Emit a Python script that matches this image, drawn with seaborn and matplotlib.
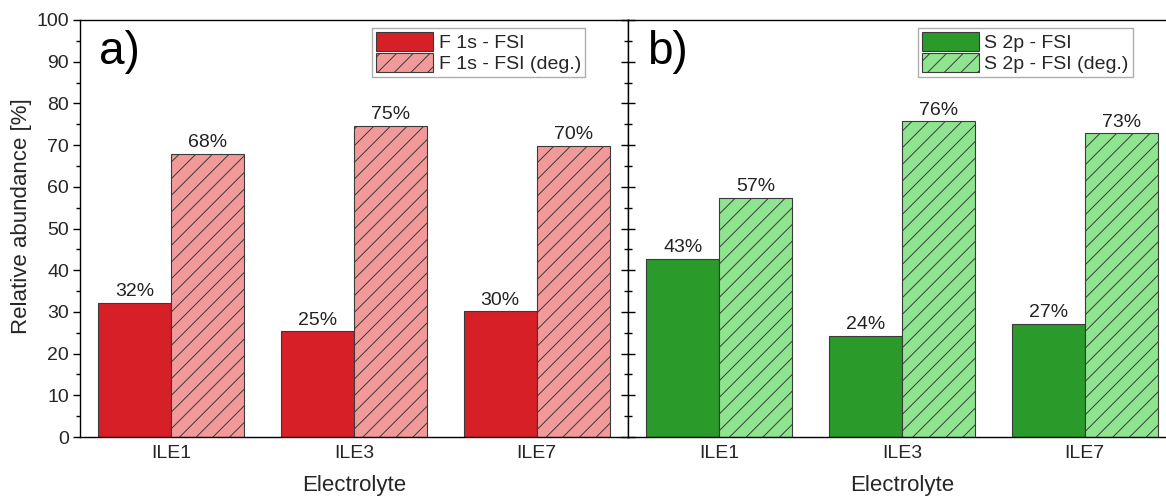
import matplotlib
matplotlib.use("Agg")
import matplotlib.pyplot as plt
from matplotlib.patches import Patch
from matplotlib.ticker import MultipleLocator
import numpy as np
import pandas as pd
import seaborn as sns

# Electrolytes and relative abundances (%)
electrolytes = ["ILE1", "ILE3", "ILE7"]
f1s_intact = [32.1, 25.3, 30.1]
f1s_degraded = [67.9, 74.7, 69.9]
s2p_intact = [42.7, 24.3, 27.2]
s2p_degraded = [57.3, 75.7, 72.8]

f_labels = ["F 1s - FSI", "F 1s - FSI (deg.)"]
s_labels = ["S 2p - FSI", "S 2p - FSI (deg.)"]
panel_tags = ["a)", "b)"]

sns.set_theme(style="white")
plt.rcParams["font.family"] = ["Liberation Sans", "DejaVu Sans"]
plt.rcParams["hatch.linewidth"] = 0.7

red_colors = ["#d71f27", "#f29a9a"]
green_colors = ["#2a9a2a", "#8fe48f"]
edge = "#3a3a3a"


def long_frame(intact, degraded, labels):
    return pd.DataFrame({
        "Electrolyte": electrolytes * 2,
        "value": list(intact) + list(degraded),
        "series": [labels[0]] * len(electrolytes) + [labels[1]] * len(electrolytes),
    })


fig = plt.figure(figsize=(11.66, 5.0), dpi=100)
W, H = 1166, 500
ax_w = 548 / W
ax_b = (500 - 437) / H
ax_h = 417 / H
ax1 = fig.add_axes([80 / W, ax_b, ax_w, ax_h])
ax2 = fig.add_axes([628 / W, ax_b, ax_w, ax_h])

panels = [
    (ax1, long_frame(f1s_intact, f1s_degraded, f_labels), f_labels, red_colors),
    (ax2, long_frame(s2p_intact, s2p_degraded, s_labels), s_labels, green_colors),
]

for i, (ax, df, labels, colors) in enumerate(panels):
    sns.barplot(data=df, x="Electrolyte", y="value", hue="series",
                hue_order=labels, palette=colors, ax=ax, width=0.8,
                edgecolor=edge, linewidth=0.8, saturation=1.0, legend=False)
    # hatch the degraded series
    for bar in ax.containers[1]:
        bar.set_hatch("//")
    for cont in ax.containers:
        ax.bar_label(cont, fmt="%.0f%%", padding=2, fontsize=14, color="#222222")

    ax.set_ylim(0, 100)
    ax.set_xlim(-0.5, 2.5)
    ax.yaxis.set_major_locator(MultipleLocator(10))
    ax.yaxis.set_minor_locator(MultipleLocator(5))
    ax.set_xlabel("Electrolyte", fontsize=16, labelpad=9)
    ax.tick_params(axis="x", length=0, labelsize=14, pad=6)
    for s in ax.spines.values():
        s.set_color("black")
        s.set_linewidth(1.0)

    handles = [Patch(facecolor=colors[0], edgecolor=edge, linewidth=0.8, label=labels[0]),
               Patch(facecolor=colors[1], edgecolor=edge, linewidth=0.8, hatch="//", label=labels[1])]
    ax.legend(handles=handles, loc="upper right", bbox_to_anchor=(0.928, 0.99),
              fontsize=14, frameon=True, fancybox=False, edgecolor="#999999",
              borderpad=0.2, handlelength=2.9, handleheight=1.1, handletextpad=0.3,
              labelspacing=0.05, borderaxespad=0.2)
    ax.text(0.035, 0.975, panel_tags[i], transform=ax.transAxes, fontsize=33,
            ha="left", va="top", color="black")

ax2.spines["right"].set_visible(False)

ax1.set_ylabel("Relative abundance [%]", fontsize=16)
ax1.yaxis.set_label_coords(-0.088, 0.53)
ax1.tick_params(axis="y", which="major", direction="out", length=5, width=1,
                left=True, labelsize=14, color="black", pad=3)
ax1.tick_params(axis="y", which="minor", direction="out", length=3, width=1,
                left=True, color="black")

ax2.set_ylabel("")
ax2.tick_params(axis="y", which="major", direction="inout", length=10, width=1,
                left=True, labelleft=False, color="black")
ax2.tick_params(axis="y", which="minor", direction="inout", length=6, width=1,
                left=True, labelleft=False, color="black")

fig.savefig("out.png", dpi=100)
